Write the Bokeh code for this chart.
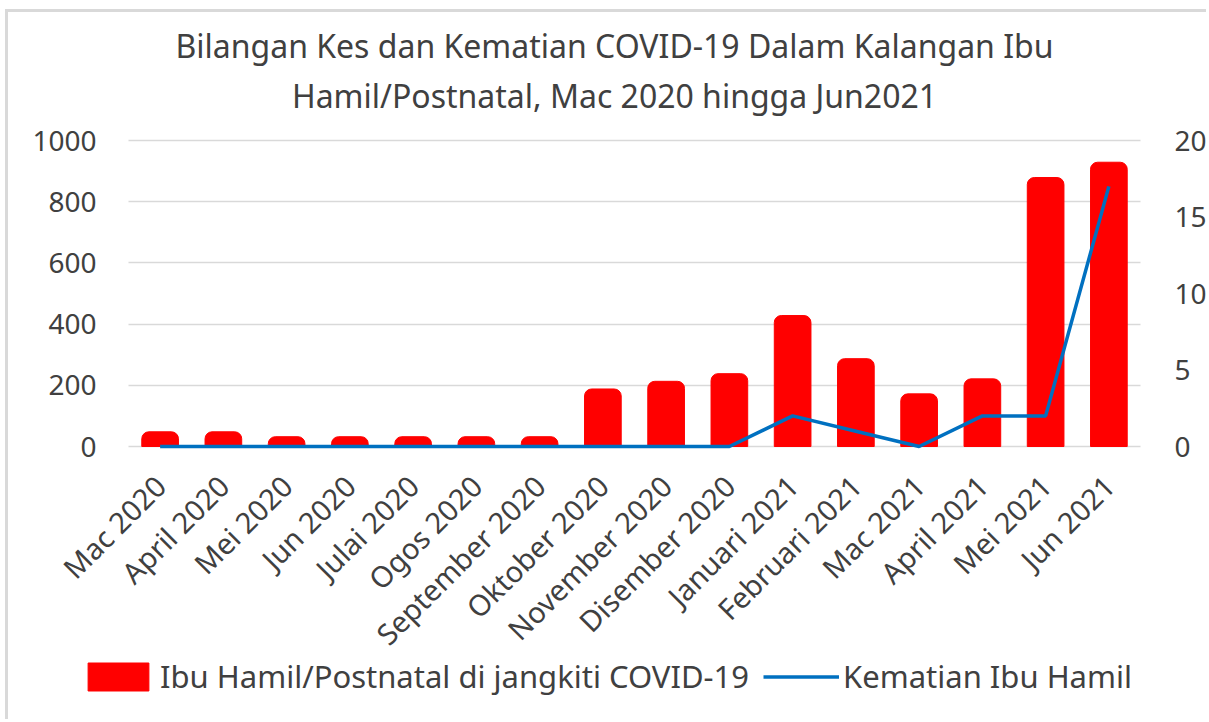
import math
from bokeh.plotting import figure
from bokeh.models import (ColumnDataSource, Range1d, LinearAxis, Legend, LegendItem,
                          Label, FixedTicker)
from bokeh.embed import file_html
from bokeh.resources import INLINE

months = ["Mac 2020", "April 2020", "Mei 2020", "Jun 2020", "Julai 2020", "Ogos 2020",
          "September 2020", "Oktober 2020", "November 2020", "Disember 2020",
          "Januari 2021", "Februari 2021", "Mac 2021", "April 2021", "Mei 2021", "Jun 2021"]
kes = [48, 48, 32, 32, 32, 32, 32, 188, 213, 238, 428, 287, 172, 221, 879, 929]
kematian = [0, 0, 0, 0, 0, 0, 0, 0, 0, 0, 2, 1, 0, 2, 2, 17]
kes_ticks = [0, 200, 400, 600, 800, 1000]
mati_ticks = [0, 5, 10, 15, 20]
title_lines = ["Bilangan Kes dan Kematian COVID-19 Dalam Kalangan Ibu",
               "Hamil/Postnatal, Mac 2020 hingga Jun2021"]
bar_label = "Ibu Hamil/Postnatal di jangkiti COVID-19"
line_label = "Kematian Ibu Hamil"

FONT = "Noto Sans"
TXT = "#404040"

# ---- layout (pixels) ----
W, H = 1201, 710
PLOT_L, PLOT_R = 120, 1132          # category area in canvas px
PLOT_T, PLOT_B = 128, 434           # y=max and y=0 in canvas px
n = len(months)
step = (PLOT_R - PLOT_L) / n
x0 = -0.5 - PLOT_L / step
x1 = x0 + W / step
ymax = kes_ticks[-1]
ppu = (PLOT_B - PLOT_T) / ymax
y0 = -(H - PLOT_B) / ppu
y1 = ymax + PLOT_T / ppu
r2 = mati_ticks[-1] / ymax

idx = list(range(n))
src = ColumnDataSource(dict(x=idx, kes=kes, mati=kematian))

p = figure(width=W, height=H, x_range=Range1d(x0, x1), y_range=Range1d(y0, y1),
           output_backend="svg", toolbar_location=None,
           min_border_left=0, min_border_right=0, min_border_top=0, min_border_bottom=0)
p.extra_y_ranges = {"mati": Range1d(y0 * r2, y1 * r2)}
p.outline_line_color = None
p.styles = {"border-left": "3px solid #d9d9d9", "border-top": "3px solid #d9d9d9",
            "margin-left": "5px", "margin-top": "9px"}

bars = p.vbar(x="x", top="kes", width=0.58, source=src, color="#FF0000",
              border_radius=(7, 7, 0, 0))
line = p.line(x="x", y="mati", source=src, y_range_name="mati",
              line_color="#0070C0", line_width=3.5)

p.yaxis.ticker = FixedTicker(ticks=kes_ticks)
p.yaxis.fixed_location = -0.5
ax2 = LinearAxis(y_range_name="mati", ticker=FixedTicker(ticks=mati_ticks),
                 fixed_location=n - 0.5)
p.add_layout(ax2, "right")

for ax in [p.yaxis[0], ax2]:
    ax.axis_line_color = None
    ax.major_tick_line_color = None
    ax.minor_tick_line_color = None
    ax.major_label_text_font = FONT
    ax.major_label_text_font_size = "28px"
    ax.major_label_text_color = TXT
p.yaxis[0].major_label_standoff = 26
ax2.major_label_standoff = 28

p.xaxis.fixed_location = 0
p.xaxis.ticker = FixedTicker(ticks=idx)
p.xaxis.major_label_overrides = {i: m for i, m in zip(idx, months)}
p.xaxis.axis_line_color = None
p.xaxis.major_tick_line_color = None
p.xaxis.minor_tick_line_color = None
p.xaxis.major_label_orientation = math.pi / 4
p.xaxis.major_label_text_font = FONT
p.xaxis.major_label_text_font_size = "29px"
p.xaxis.major_label_text_color = TXT
p.xaxis.major_label_standoff = 28

p.xgrid.grid_line_color = None
p.ygrid.grid_line_color = "#d9d9d9"
p.ygrid.grid_line_width = 1.5
p.ygrid.cross_bounds = (-0.5, n - 0.5)

title_y = [ymax + (PLOT_T - 33) / ppu, ymax + (PLOT_T - 83) / ppu]
title_x = (n - 1) / 2 - 20 / step
for t, yy in zip(title_lines, title_y):
    p.add_layout(Label(x=title_x, y=yy, text=t, text_align="center",
                       text_baseline="middle", text_font=FONT, text_font_size="32px",
                       text_color=TXT))

legend = Legend(items=[LegendItem(label=bar_label, renderers=[bars]),
                       LegendItem(label=line_label, renderers=[line])],
                orientation="horizontal", location=(72, 25),
                glyph_width=76, glyph_height=35, label_text_font=FONT,
                label_text_font_size="31px", label_text_color=TXT,
                border_line_color=None, background_fill_alpha=0,
                label_standoff=4, spacing=14, padding=0, margin=0)
p.add_layout(legend, "center")

open("out.html", "w").write(file_html(p, INLINE))
